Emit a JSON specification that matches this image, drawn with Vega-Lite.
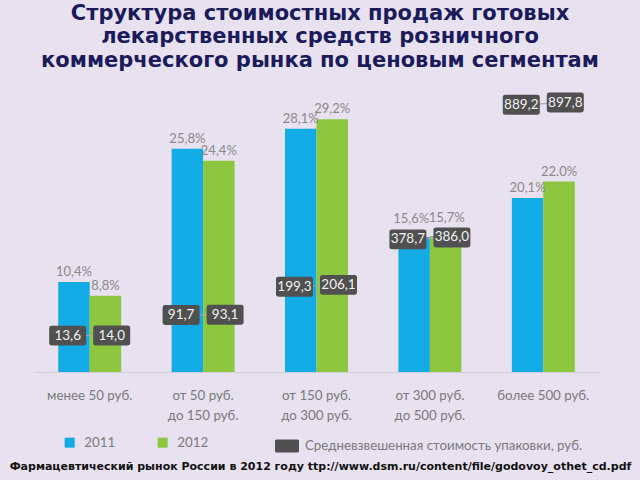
{
  "$schema": "https://vega.github.io/schema/vega-lite/v6.json",
  "width": 567,
  "height": 277,
  "autosize": {"type": "none"},
  "padding": {"left": 33, "top": 95, "right": 40, "bottom": 108},
  "background": "#e8e1ef",
  "title": {
    "text": ["Структура стоимостных продаж готовых", "лекарственных средств розничного", "коммерческого рынка по ценовым сегментам"],
    "font": "DejaVu Sans",
    "fontWeight": "bold",
    "fontSize": 21,
    "lineHeight": 23.5,
    "color": "#1b1b5c",
    "anchor": "middle",
    "dx": 3.5,
    "offset": 22
  },
  "data": {
    "values": [
      {"segment": "менее 50 руб.", "year": "2011", "share": 10.4, "label": "10,4%", "price": 13.6, "priceLabel": "13,6"},
      {"segment": "менее 50 руб.", "year": "2012", "share": 8.8, "label": "8,8%", "price": 14.0, "priceLabel": "14,0"},
      {"segment": "от 50 руб. до 150 руб.", "year": "2011", "share": 25.8, "label": "25,8%", "price": 91.7, "priceLabel": "91,7"},
      {"segment": "от 50 руб. до 150 руб.", "year": "2012", "share": 24.4, "label": "24,4%", "price": 93.1, "priceLabel": "93,1"},
      {"segment": "от 150 руб. до 300 руб.", "year": "2011", "share": 28.1, "label": "28,1%", "price": 199.3, "priceLabel": "199,3"},
      {"segment": "от 150 руб. до 300 руб.", "year": "2012", "share": 29.2, "label": "29,2%", "price": 206.1, "priceLabel": "206,1"},
      {"segment": "от 300 руб. до 500 руб.", "year": "2011", "share": 15.6, "label": "15,6%", "price": 378.7, "priceLabel": "378,7"},
      {"segment": "от 300 руб. до 500 руб.", "year": "2012", "share": 15.7, "label": "15,7%", "price": 386.0, "priceLabel": "386,0"},
      {"segment": "более 500 руб.", "year": "2011", "share": 20.1, "label": "20,1%", "price": 889.2, "priceLabel": "889,2"},
      {"segment": "более 500 руб.", "year": "2012", "share": 22.0, "label": "22.0%", "price": 897.8, "priceLabel": "897,8"}
    ]
  },
  "encoding": {
    "x": {
      "field": "segment",
      "type": "nominal",
      "sort": null,
      "scale": {"paddingInner": 0.445, "paddingOuter": 0.2225},
      "axis": {
        "labelAngle": 0,
        "ticks": false,
        "domainColor": "#d2ccd8",
        "domainWidth": 1,
        "labelFont": "Lato",
        "labelFontSize": 13.3,
        "labelColor": "#7a7a7a",
        "labelPadding": 16,
        "labelLineHeight": 20,
        "labelLimit": 200,
        "labelExpr": "indexof(datum.label, ' до ') > 0 ? [substring(datum.label, 0, indexof(datum.label, ' до ')), substring(datum.label, indexof(datum.label, ' до ') + 1)] : datum.label",
        "title": "Фармацевтический рынок России в 2012 году ttp://www.dsm.ru/content/file/godovoy_othet_cd.pdf",
        "titleFont": "DejaVu Sans",
        "titleFontWeight": "bold",
        "titleFontSize": 11,
        "titleColor": "#111111",
        "titleX": 287,
        "titleY": 94,
        "titleAlign": "center",
        "titleBaseline": "middle",
        "titleLimit": 1000
      }
    }
  },
  "layer": [
    {
      "mark": {"type": "bar"},
      "encoding": {
        "xOffset": {"field": "year", "type": "nominal", "scale": {"paddingInner": 0, "paddingOuter": 0}},
        "y": {"field": "share", "type": "quantitative", "scale": {"domain": [0, 32], "nice": false}, "axis": null},
        "color": {
          "field": "year",
          "type": "nominal",
          "scale": {"domain": ["2011", "2012"], "range": ["#13abe6", "#8dc63f"]},
          "legend": {
            "orient": "none",
            "legendX": 30,
            "legendY": 341,
            "direction": "horizontal",
            "title": null,
            "symbolType": "square",
            "symbolSize": 100,
            "symbolStrokeWidth": 0,
            "labelFont": "Lato",
            "labelFontSize": 13.3,
            "labelColor": "#7a7a7a",
            "labelOffset": 8,
            "columnPadding": 40
          }
        }
      }
    },
    {
      "mark": {
        "type": "text",
        "baseline": "bottom",
        "dy": {"expr": "datum.segment == 'от 300 руб. до 500 руб.' ? -11 : -3"},
        "dx": {"expr": "datum.segment == 'от 300 руб. до 500 руб.' ? (datum.year == '2011' ? -3 : 1) : 0"},
        "font": "Lato",
        "fontSize": 13,
        "color": "#8a8a8a"
      },
      "encoding": {
        "xOffset": {"field": "year", "type": "nominal", "scale": {"paddingInner": 0, "paddingOuter": 0}},
        "y": {"field": "share", "type": "quantitative", "scale": {"domain": [0, 32], "nice": false}, "axis": null},
        "text": {"field": "label"}
      }
    },
    {
      "mark": {"type": "line", "color": "#a9a9a9", "strokeWidth": 1.2, "xOffset": {"expr": "datum.year == '2011' ? -22 : 22"}},
      "encoding": {
        "y": {"field": "price", "type": "quantitative", "scale": {"domain": [-124.4, 926.4], "nice": false, "zero": false}, "axis": null},
        "detail": {"field": "segment"}
      }
    },
    {
      "mark": {"type": "point", "filled": true, "fill": "#505050", "opacity": 1, "size": 1369, "strokeWidth": 0, "xOffset": {"expr": "datum.year == '2011' ? -22 : 22"}},
      "encoding": {
        "y": {"field": "price", "type": "quantitative", "scale": {"domain": [-124.4, 926.4], "nice": false, "zero": false}, "axis": null},
        "shape": {
          "datum": "Средневзвешенная стоимость упаковки, руб.",
          "scale": {"range": ["M-0.87,-0.54 L0.87,-0.54 Q1,-0.54 1,-0.41 L1,0.41 Q1,0.54 0.87,0.54 L-0.87,0.54 Q-1,0.54 -1,0.41 L-1,-0.41 Q-1,-0.54 -0.87,-0.54 Z"]},
          "legend": {
            "orient": "none",
            "legendX": 242,
            "legendY": 339,
            "title": null,
            "symbolSize": 576,
            "symbolFillColor": "#505050",
            "symbolStrokeWidth": 0,
            "labelFont": "Lato",
            "labelFontSize": 13.3,
            "labelColor": "#7a7a7a",
            "labelOffset": 6,
            "labelLimit": 400
          }
        }
      }
    },
    {
      "mark": {"type": "text", "baseline": "middle", "font": "Lato", "fontSize": 13.5, "color": "#f2f2f2", "xOffset": {"expr": "datum.year == '2011' ? -22 : 22"}},
      "encoding": {
        "y": {"field": "price", "type": "quantitative", "scale": {"domain": [-124.4, 926.4], "nice": false, "zero": false}, "axis": null},
        "text": {"field": "priceLabel"}
      }
    }
  ],
  "resolve": {"scale": {"y": "independent"}},
  "config": {
    "view": {"stroke": null}
  }
}
